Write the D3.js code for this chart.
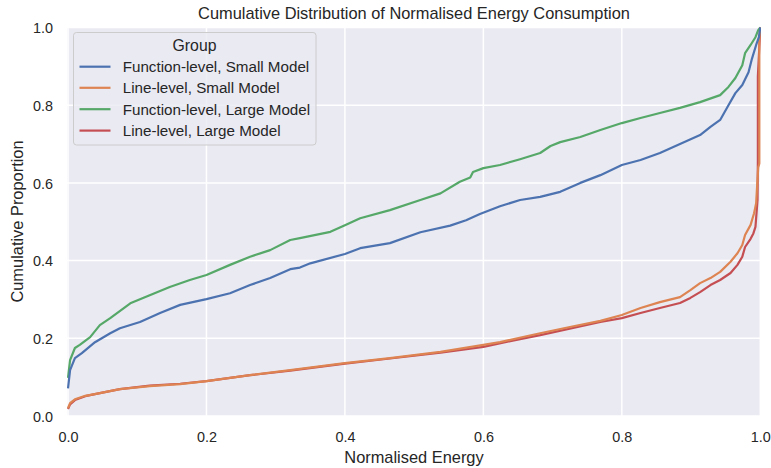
<!DOCTYPE html>
<html>
<head>
<meta charset="utf-8">
<script src="https://cdn.jsdelivr.net/npm/d3@7"></script>
<style>
  html, body { margin: 0; padding: 0; background: #ffffff; }
  svg { display: block; font-family: "Liberation Sans", Arial, sans-serif; }
</style>
</head>
<body>
<svg id="chart" width="771" height="468"></svg>
<script>
// ---------- data ----------
const groups = [
  "Function-level, Small Model",
  "Line-level, Small Model",
  "Function-level, Large Model",
  "Line-level, Large Model"
];
const colors = ["#4C72B0", "#DD8452", "#55A868", "#C44E52"];

const xTicks = [0, 0.2, 0.4, 0.6, 0.8, 1.0];
const yTicks = [0, 0.2, 0.4, 0.6, 0.8, 1.0];

// Function-level, Small Model : [normalised energy, cumulative proportion]
const funcSmall = [
  [0, 0.071], [0.003, 0.118], [0.010, 0.149], [0.020, 0.162], [0.039, 0.190],
  [0.061, 0.213], [0.075, 0.226], [0.104, 0.242], [0.133, 0.265], [0.162, 0.286],
  [0.200, 0.301], [0.234, 0.316], [0.263, 0.337], [0.292, 0.355], [0.321, 0.378],
  [0.335, 0.382], [0.350, 0.393], [0.400, 0.417], [0.422, 0.432], [0.465, 0.445],
  [0.509, 0.473], [0.552, 0.490], [0.575, 0.504], [0.595, 0.520], [0.624, 0.540],
  [0.653, 0.556], [0.682, 0.564], [0.711, 0.577], [0.740, 0.600], [0.769, 0.620],
  [0.800, 0.646], [0.827, 0.659], [0.855, 0.677], [0.884, 0.700], [0.913, 0.723],
  [0.928, 0.744], [0.942, 0.762], [0.954, 0.800], [0.964, 0.831], [0.974, 0.852],
  [0.983, 0.885], [0.988, 0.920], [0.994, 0.955], [0.998, 0.975], [1.000, 1.000]
];

// Line-level, Small Model
const lineSmall = [
  [0, 0.020], [0.003, 0.033], [0.010, 0.043], [0.025, 0.052], [0.046, 0.059],
  [0.075, 0.069], [0.118, 0.077], [0.162, 0.082], [0.200, 0.090], [0.263, 0.105],
  [0.321, 0.118], [0.400, 0.136], [0.465, 0.149], [0.538, 0.165], [0.600, 0.183],
  [0.624, 0.190], [0.682, 0.213], [0.725, 0.229], [0.769, 0.245], [0.800, 0.260],
  [0.827, 0.278], [0.855, 0.293], [0.884, 0.306], [0.899, 0.324], [0.913, 0.342],
  [0.928, 0.355], [0.942, 0.371], [0.957, 0.397], [0.967, 0.419], [0.974, 0.440],
  [0.978, 0.466], [0.986, 0.492], [0.991, 0.522], [0.994, 0.548], [0.997, 0.640],
  [0.9986, 0.650], [0.9986, 0.970], [1.000, 1.000]
];

// Function-level, Large Model
const funcLarge = [
  [0, 0.098], [0.003, 0.144], [0.010, 0.175], [0.017, 0.183], [0.032, 0.203],
  [0.046, 0.234], [0.061, 0.252], [0.090, 0.290], [0.118, 0.311], [0.147, 0.332],
  [0.176, 0.350], [0.200, 0.363], [0.234, 0.389], [0.263, 0.410], [0.292, 0.427],
  [0.321, 0.453], [0.335, 0.458], [0.379, 0.474], [0.400, 0.491], [0.422, 0.509],
  [0.465, 0.530], [0.509, 0.556], [0.538, 0.573], [0.566, 0.603], [0.581, 0.614],
  [0.585, 0.628], [0.600, 0.638], [0.624, 0.646], [0.653, 0.661], [0.682, 0.677],
  [0.697, 0.695], [0.711, 0.705], [0.740, 0.718], [0.769, 0.736], [0.800, 0.754],
  [0.827, 0.767], [0.855, 0.780], [0.884, 0.793], [0.913, 0.808], [0.942, 0.826],
  [0.954, 0.847], [0.964, 0.870], [0.974, 0.903], [0.978, 0.934], [0.986, 0.955],
  [0.993, 0.975], [0.997, 0.993], [1.000, 1.000]
];

// Line-level, Large Model
const lineLarge = [
  [0, 0.018], [0.003, 0.030], [0.010, 0.041], [0.025, 0.051], [0.046, 0.059],
  [0.075, 0.069], [0.118, 0.078], [0.162, 0.083], [0.200, 0.090], [0.263, 0.105],
  [0.321, 0.117], [0.400, 0.135], [0.465, 0.148], [0.538, 0.163], [0.600, 0.178],
  [0.653, 0.198], [0.682, 0.208], [0.769, 0.242], [0.800, 0.252], [0.827, 0.265],
  [0.855, 0.278], [0.884, 0.291], [0.899, 0.304], [0.913, 0.319], [0.928, 0.337],
  [0.942, 0.350], [0.957, 0.368], [0.967, 0.389], [0.974, 0.410], [0.978, 0.435],
  [0.986, 0.456], [0.990, 0.470], [0.993, 0.487], [0.996, 0.556], [0.9965, 0.660],
  [0.9965, 0.875], [1.000, 1.000]
];

const seriesData = [funcSmall, lineSmall, funcLarge, lineLarge];

// ---------- layout ----------
const svg = d3.select("#chart");
const plot = { left: 67, right: 761, top: 27, bottom: 416 };

const x = d3.scaleLinear().domain([0, 1]).range([68, 760.3]);
const y = d3.scaleLinear().domain([0, 1]).range([416, 27.5]);

// background
svg.append("rect")
  .attr("x", plot.left).attr("y", plot.top)
  .attr("width", plot.right - plot.left).attr("height", plot.bottom - plot.top)
  .attr("fill", "#EAEAF2");

svg.append("defs").append("clipPath").attr("id", "clip")
  .append("rect")
  .attr("x", plot.left).attr("y", plot.top - 1)
  .attr("width", plot.right - plot.left).attr("height", plot.bottom - plot.top + 2);

// grid
const grid = svg.append("g");
grid.selectAll("line.gx").data(xTicks).join("line")
  .attr("x1", d => x(d)).attr("x2", d => x(d))
  .attr("y1", plot.top).attr("y2", plot.bottom)
  .attr("stroke", "#ffffff").attr("stroke-width", 1.5);
grid.selectAll("line.gy").data(yTicks).join("line")
  .attr("y1", d => y(d)).attr("y2", d => y(d))
  .attr("x1", plot.left).attr("x2", plot.right)
  .attr("stroke", "#ffffff").attr("stroke-width", 1.5);

// axes via d3 axis generators (no tick marks, no domain line)
const xAxis = svg.append("g")
  .attr("transform", `translate(0,${plot.bottom})`)
  .call(d3.axisBottom(x).tickValues(xTicks).tickFormat(d3.format(".1f")).tickSize(0).tickPadding(20));
xAxis.select(".domain").remove();
xAxis.selectAll("text")
  .attr("font-family", "Liberation Sans, Arial, sans-serif")
  .attr("font-size", 14.4).attr("fill", "#262626")
  .attr("dy", "0").attr("y", 26);

const yAxis = svg.append("g")
  .attr("transform", `translate(${plot.left},0)`)
  .call(d3.axisLeft(y).tickValues(yTicks).tickFormat(d3.format(".1f")).tickSize(0).tickPadding(14));
yAxis.select(".domain").remove();
yAxis.selectAll("text")
  .attr("font-family", "Liberation Sans, Arial, sans-serif")
  .attr("font-size", 14.4).attr("fill", "#262626")
  .attr("dy", "0.36em");

// lines (drawn in reverse so the first group is on top)
const line = d3.line().x(d => x(d[0])).y(d => y(d[1])).curve(d3.curveLinear);
const linesG = svg.append("g").attr("clip-path", "url(#clip)");
const order = d3.range(groups.length).reverse();
linesG.selectAll("path").data(order).join("path")
  .attr("d", i => line(seriesData[i]))
  .attr("fill", "none")
  .attr("stroke", i => colors[i])
  .attr("stroke-width", 2.2)
  .attr("stroke-linejoin", "round");

// title & axis labels
svg.append("text")
  .attr("x", 414).attr("y", 19)
  .attr("text-anchor", "middle")
  .attr("font-size", 16.4).attr("fill", "#262626")
  .text("Cumulative Distribution of Normalised Energy Consumption");

svg.append("text")
  .attr("x", 414).attr("y", 463)
  .attr("text-anchor", "middle")
  .attr("font-size", 16.4).attr("fill", "#262626")
  .text("Normalised Energy");

svg.append("text")
  .attr("transform", `translate(23,${(plot.top + plot.bottom) / 2}) rotate(-90)`)
  .attr("text-anchor", "middle")
  .attr("font-size", 16.4).attr("fill", "#262626")
  .text("Cumulative Proportion");

// legend
const legend = svg.append("g");
legend.append("rect")
  .attr("x", 73.5).attr("y", 32.5).attr("width", 242.5).attr("height", 112.5)
  .attr("rx", 3).attr("ry", 3)
  .attr("fill", "#EAEAF2").attr("fill-opacity", 0.8)
  .attr("stroke", "#cccccc").attr("stroke-width", 1);
legend.append("text")
  .attr("x", 194.5).attr("y", 51)
  .attr("text-anchor", "middle")
  .attr("font-size", 15.8).attr("fill", "#262626")
  .text("Group");
const legendY = [66.7, 87.8, 109.2, 130.6];
const items = legend.selectAll("g.item").data(groups).join("g")
  .attr("transform", (d, i) => `translate(0,${legendY[i]})`);
items.append("line")
  .attr("x1", 79.5).attr("x2", 110.5).attr("y1", 0).attr("y2", 0)
  .attr("stroke", (d, i) => colors[i]).attr("stroke-width", 2.2);
items.append("text")
  .attr("x", 122.7).attr("y", 0).attr("dy", "0.36em")
  .attr("font-size", 15.2).attr("fill", "#262626")
  .text(d => d);
</script>
</body>
</html>
